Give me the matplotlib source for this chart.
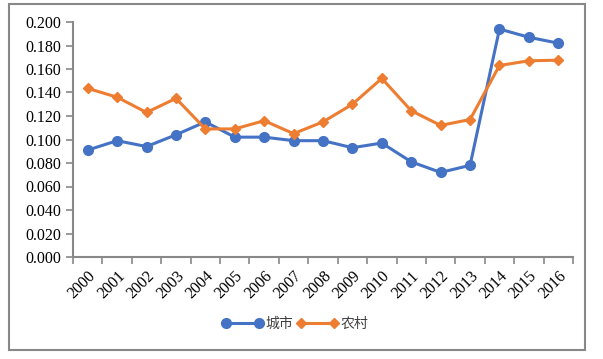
import numpy as np
import matplotlib
matplotlib.use('Agg')
import matplotlib.pyplot as plt
from matplotlib.patches import Rectangle

# Data
years = [str(y) for y in range(2000, 2017)]
city = [0.091, 0.099, 0.094, 0.104, 0.115, 0.102, 0.102, 0.099, 0.099,
        0.093, 0.097, 0.081, 0.072, 0.078, 0.194, 0.187, 0.182]
rural = [0.1435, 0.136, 0.123, 0.135, 0.109, 0.109, 0.116, 0.105, 0.115,
         0.130, 0.152, 0.1245, 0.112, 0.117, 0.163, 0.167, 0.1675]
yticks = np.arange(0, 0.2001, 0.02)

plt.rcParams['font.family'] = ['Liberation Serif', 'Noto Sans CJK SC']

W, H = 603, 359
fig = plt.figure(figsize=(W / 100, H / 100), dpi=100)
ax = fig.add_axes([73 / W, (H - 257) / H, 500 / W, 235 / H])

x = np.arange(len(years))
ax.plot(x, city, color='#4472C4', lw=2.2, marker='o', ms=7, label='城市')
ax.plot(x, rural, color='#ED7D31', lw=2.2, marker='D', ms=5.5, label='农村')

ax.set_xlim(-0.5, len(years) - 0.5)
ax.set_ylim(0, 0.2)
ax.set_yticks(yticks)
ax.set_yticklabels([f'{v:.3f}' for v in yticks], fontsize=11.5)

# category axis: ticks at boundaries, labels at centres
ax.set_xticks(np.arange(-0.5, len(years), 1))
ax.set_xticklabels([])
ax.set_xticks(x, minor=True)
ax.set_xticklabels(years, minor=True, rotation=45, ha='right', va='top',
                   rotation_mode='anchor', fontsize=11.5)
ax.tick_params(axis='x', which='minor', length=0, pad=8)
ax.tick_params(axis='both', which='major', color='#888888', length=5, width=1.2)

for s in ['top', 'right']:
    ax.spines[s].set_visible(False)
for s in ['left', 'bottom']:
    ax.spines[s].set_color('#888888')
    ax.spines[s].set_linewidth(1.5)

leg = fig.legend(loc='center', bbox_to_anchor=(295 / W, 1 - 324 / H), ncol=2,
                 frameon=False, numpoints=2, handlelength=3.0, columnspacing=0.2,
                 handletextpad=0.2, prop={'family': 'Noto Sans CJK SC', 'size': 10})
for t in leg.get_texts():
    t.set_color('#404040')

# outer chart border
fig.patches.append(Rectangle((9 / W, 1 - 350 / H), 576 / W, 346 / H,
                             transform=fig.transFigure, fill=False,
                             edgecolor='#888888', lw=1.5))

plt.savefig('out.png', dpi=100)
